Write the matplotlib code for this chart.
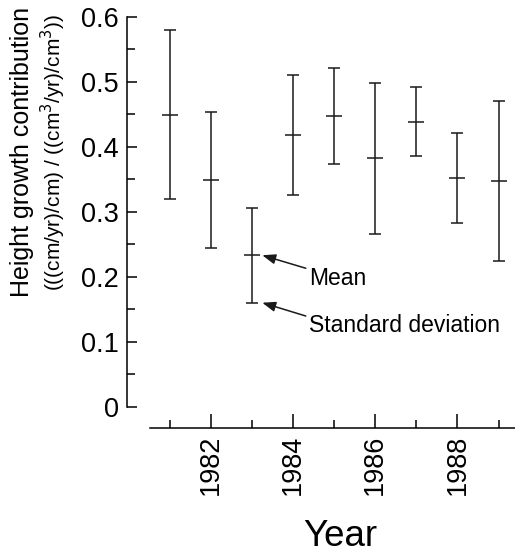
import matplotlib
matplotlib.use("Agg")
import matplotlib.pyplot as plt
import numpy as np

plt.rcParams['font.family'] = ['Liberation Sans', 'DejaVu Sans']

# data
years = [1981, 1982, 1983, 1984, 1985, 1986, 1987, 1988, 1989]
means = [0.449, 0.349, 0.233, 0.418, 0.447, 0.383, 0.438, 0.352, 0.347]
upper = [0.579, 0.454, 0.305, 0.510, 0.521, 0.498, 0.492, 0.421, 0.471]
lower = [0.319, 0.244, 0.160, 0.326, 0.373, 0.266, 0.385, 0.282, 0.224]

major_years = [1982, 1984, 1986, 1988]
y_ticks = [0, 0.1, 0.2, 0.3, 0.4, 0.5, 0.6]
y_labels = ['0', '0.1', '0.2', '0.3', '0.4', '0.5', '0.6']

fig = plt.figure(figsize=(5.15, 5.56), dpi=100)
ax = fig.add_axes([127/515, 0.2302, 1 - 127/515, 0.7631])

m = np.array(means)
yerr = [m - np.array(lower), np.array(upper) - m]
lw = 1.1
ax.errorbar(years, means, yerr=yerr, fmt='none', ecolor='#1a1a1a',
            elinewidth=lw, capsize=4, capthick=lw)
ax.plot(years, means, linestyle='none', marker='_', markersize=11,
        markeredgewidth=lw, color='#1a1a1a')

ax.set_xlim(1979.96, 1989.4)
ax.set_ylim(-0.0328, 0.62)

for s in ['top', 'right']:
    ax.spines[s].set_visible(False)
ax.spines['left'].set_bounds(0, 0.6)
ax.spines['bottom'].set_bounds(1980.52, 1989.4)
ax.spines['left'].set_linewidth(lw)
ax.spines['bottom'].set_linewidth(lw)

ax.set_yticks(y_ticks)
ax.set_yticklabels(y_labels)
ax.set_yticks(np.arange(0.05, 0.6, 0.1), minor=True)
ax.set_xticks(major_years)
ax.set_xticklabels([str(y) for y in major_years], rotation=90)
ax.set_xticks([1981, 1983, 1985, 1987, 1989], minor=True)

ax.tick_params(axis='y', which='major', direction='in', length=7.2, width=lw,
               labelsize=19.5, pad=6)
ax.tick_params(axis='y', which='minor', direction='in', length=5.5, width=lw)
ax.tick_params(axis='x', which='major', direction='in', length=10, width=lw,
               labelsize=19.5, pad=5)
ax.tick_params(axis='x', which='minor', direction='in', length=6, width=lw)

# annotations for the 1983 bar
ax.annotate('', xy=(1983.25, means[2]), xytext=(1984.31, 0.213),
            arrowprops=dict(arrowstyle='-|>,head_length=0.8,head_width=0.3',
                            color='#1a1a1a', lw=1.1, shrinkA=0, shrinkB=0))
ax.annotate('', xy=(1983.25, lower[2]), xytext=(1984.31, 0.1395),
            arrowprops=dict(arrowstyle='-|>,head_length=0.8,head_width=0.3',
                            color='#1a1a1a', lw=1.1, shrinkA=0, shrinkB=0))
ax.text(1984.39, 0.197, 'Mean', fontsize=16.5, ha='left', va='center')
ax.text(1984.39, 0.125, 'Standard deviation', fontsize=16.5, ha='left', va='center')

fig.text(22/515, 1 - 152/556, 'Height growth contribution', rotation=90,
         fontsize=18, ha='center', va='center')
fig.text(53/515, 1 - 152/556, '(((cm/yr)/cm) / ((cm$^3$/yr)/cm$^3$))', rotation=90,
         fontsize=15, ha='center', va='center')
fig.text(340/515, 1 - 536/556, 'Year', fontsize=26.5, ha='center', va='center')

fig.savefig('out.png', dpi=100)
